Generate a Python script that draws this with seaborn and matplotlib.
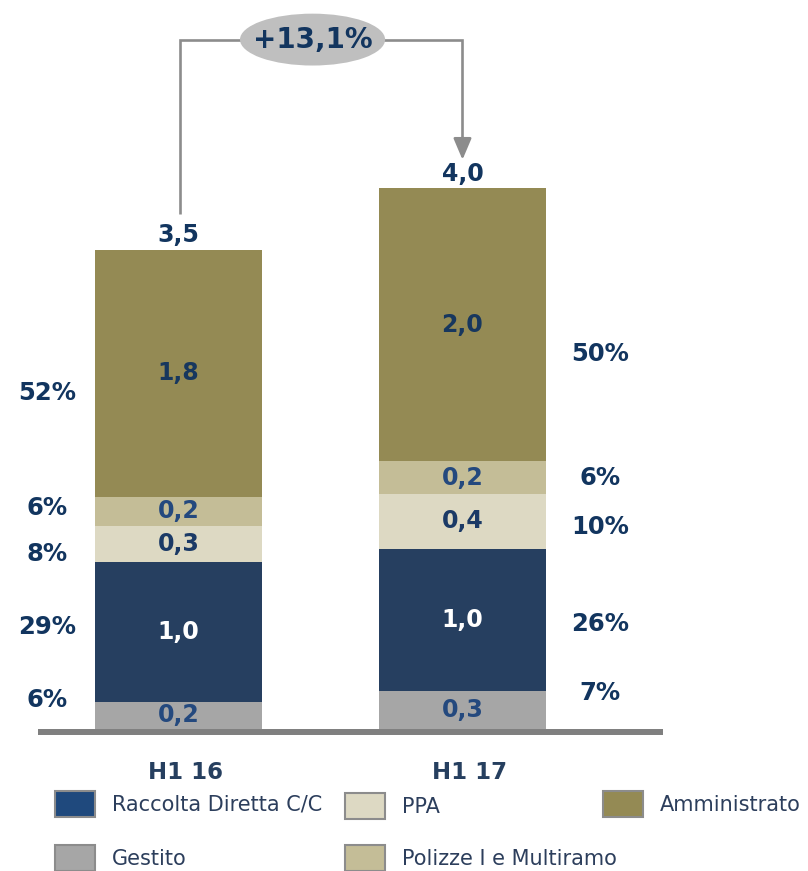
import numpy as np
import pandas as pd
import matplotlib
matplotlib.use("Agg")
import matplotlib.pyplot as plt
import matplotlib.transforms as mtransforms
import seaborn as sns
from matplotlib.patches import Ellipse, Patch

# ---------------- data ----------------
periods = ["H1 16", "H1 17"]
series = ["Gestito", "Raccolta Diretta C/C", "PPA", "Polizze I e Multiramo", "Amministrato"]
gestito = [0.20, 0.28]
raccolta = [1.02, 1.04]
ppa = [0.27, 0.40]
polizze = [0.21, 0.24]
amministrato = [1.81, 2.00]
totals = [3.5, 4.0]
shares_h1_16 = [6, 29, 8, 6, 52]
shares_h1_17 = [7, 26, 10, 6, 50]
growth_label = "+13,1%"

# ---------------- style ----------------
bar_colors = ["#a6a6a6", "#263f60", "#ddd9c3", "#c4bd97", "#948a54"]
legend_colors = {"Gestito": "#a6a6a6", "Raccolta Diretta C/C": "#1f497d",
                 "PPA": "#ddd9c3", "Polizze I e Multiramo": "#c4bd97",
                 "Amministrato": "#948a54"}
seg_text_colors = ["#24497e", "#ffffff", "#1b3a66", "#24497e", "#17375e"]
navy = "#12355f"
line_col = "#8c8c8c"

sns.set_style("white")
plt.rcParams["font.family"] = ["DejaVu Sans"]

df = pd.DataFrame({"period": periods, "Gestito": gestito,
                   "Raccolta Diretta C/C": raccolta, "PPA": ppa,
                   "Polizze I e Multiramo": polizze, "Amministrato": amministrato})

W, H = 808, 871
fig = plt.figure(figsize=(W / 100, H / 100), dpi=100)
ax = fig.add_axes([38 / W, 139 / H, 625 / W, 732 / H])

bottom = np.zeros(len(periods))
seg_centers = []
for name, col in zip(series, bar_colors):
    vals = df[name].to_numpy()
    sns.barplot(data=df, x="period", y=name, order=periods, color=col,
                saturation=1, width=0.59, linewidth=0, errorbar=None,
                bottom=bottom.copy(), ax=ax)
    seg_centers.append(bottom + vals / 2)
    bottom = bottom + vals
seg_centers = np.array(seg_centers)

ax.set_xlim(-0.4947, 1.706)
ax.set_ylim(-0.022, 5.34)
ax.set_xlabel("")
ax.set_ylabel("")
ax.set_yticks([])
for s in ["left", "right", "top"]:
    ax.spines[s].set_visible(False)
ax.spines["bottom"].set_color("#7f7f7f")
ax.spines["bottom"].set_linewidth(4.3)
ax.spines["bottom"].set_capstyle("butt")
ax.tick_params(axis="x", length=0, pad=21)
shift = mtransforms.ScaledTranslation(7 / 100, 0, fig.dpi_scale_trans)
for lab in ax.get_xticklabels():
    lab.set_fontsize(16.5)
    lab.set_fontweight("bold")
    lab.set_color("#263f5f")
    lab.set_transform(lab.get_transform() + shift)

fmt = lambda v: f"{v:.1f}".replace(".", ",")
num_fs = 17

# segment labels
for k, name in enumerate(series):
    vals = df[name].to_numpy()
    for i in range(len(periods)):
        ax.text(i, seg_centers[k, i], fmt(vals[i]), ha="center", va="center",
                fontsize=num_fs, fontweight="bold", color=seg_text_colors[k], zorder=5)

# totals
for i, t in enumerate(totals):
    ax.annotate(fmt(t), xy=(i, bottom[i]), xytext=(0, 2), textcoords="offset points",
                ha="center", va="bottom", fontsize=num_fs, fontweight="bold", color=navy)

# percentage shares beside the bars
nudge_left = [11, 4, -7, 2, -14]
nudge_right = [12, -3, -4, 0, -21]
for k in range(len(series)):
    ax.annotate(f"{shares_h1_16[k]}%", xy=(-0.463, seg_centers[k, 0]),
                xytext=(0, nudge_left[k]), textcoords="offset points",
                ha="center", va="center", fontsize=num_fs + 0.5, fontweight="bold", color=navy)
    ax.annotate(f"{shares_h1_17[k]}%", xy=(1.484, seg_centers[k, 1]),
                xytext=(0, nudge_right[k]), textcoords="offset points",
                ha="center", va="center", fontsize=num_fs + 0.5, fontweight="bold", color=navy)

# growth bracket
top_y = 5.05
ax.plot([0.005, 0.005, 1.0, 1.0], [3.77, top_y, top_y, 4.32], color=line_col,
        lw=1.9, solid_joinstyle="miter", solid_capstyle="butt", zorder=2)
ax.annotate("", xy=(1.0, 4.17), xytext=(1.0, 4.33),
            arrowprops=dict(arrowstyle="-|>,head_length=1.3,head_width=0.55",
                            mutation_scale=10, color=line_col, lw=1.9,
                            shrinkA=0, shrinkB=0))
ax.add_patch(Ellipse((0.472, top_y), 0.511, 0.38, facecolor="#bfbfbf",
                     edgecolor="none", zorder=3))
ax.text(0.472, top_y, growth_label, ha="center", va="center", fontsize=20,
        fontweight="bold", color=navy, zorder=4)

# legend (individually placed entries)
leg_pos = {"Raccolta Diretta C/C": (55, 804), "PPA": (345, 806),
           "Amministrato": (603, 804), "Gestito": (55, 858),
           "Polizze I e Multiramo": (345, 858)}
leg_fs = 15
for name in ["Raccolta Diretta C/C", "PPA", "Amministrato", "Gestito", "Polizze I e Multiramo"]:
    h = Patch(facecolor=legend_colors[name], edgecolor="#8c8c8c", linewidth=1.5)
    x0, y0 = leg_pos[name]
    fig.legend(handles=[h], labels=[name], loc="center left",
               bbox_to_anchor=(x0 / W, 1 - y0 / H), frameon=False,
               borderpad=0, borderaxespad=0, handlelength=40 / (leg_fs * 100 / 72),
               handleheight=32 / (leg_fs * 100 / 72),
               handletextpad=17 / (leg_fs * 100 / 72),
               prop=dict(family=["DejaVu Sans"], size=leg_fs),
               labelcolor="#2c3e5c")

fig.savefig("out.png", dpi=100)
